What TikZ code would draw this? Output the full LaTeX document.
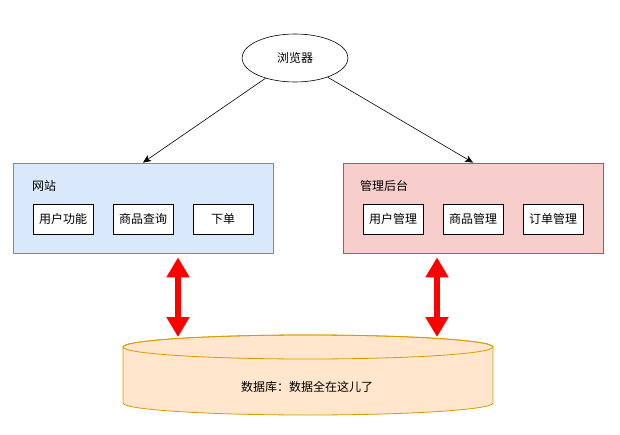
\documentclass[tikz,border=0pt]{standalone}
\usepackage{fontspec}
\usepackage{xcolor}
\usepackage{tikz}
\usetikzlibrary{arrows.meta,positioning,shapes.geometric}
\newfontfamily\cjk{Noto Sans CJK SC}
\definecolor{bluefill}{HTML}{DAE8FC}
\definecolor{blueline}{HTML}{6C8EBF}
\definecolor{redfill}{HTML}{F8CECC}
\definecolor{redline}{HTML}{B85450}
\definecolor{dbfill}{HTML}{FFE6CC}
\definecolor{dbline}{HTML}{D79B00}
\definecolor{redx}{HTML}{FF0000}
\tikzset{
  txt/.style={font=\cjk\fontsize{12}{14}\selectfont},
  ar/.style={-{Stealth[length=8pt,width=7pt,inset=2pt]},black,line width=0.6pt},
  dbar/.style={{Triangle[length=20pt,width=22pt]}-{Triangle[length=20pt,width=22pt]},redx,line width=6pt},
  panel/.style={draw,line width=0.8pt,minimum width=260,minimum height=90,inner sep=0pt},
  item/.style={txt,draw=black,fill=white,line width=0.8pt,minimum width=60,minimum height=30,inner sep=0pt}
}

\begin{document}
\begin{tikzpicture}[x=1pt,y=-1pt]
\useasboundingbox (0,0) rectangle (620,435);
\node[txt,ellipse,draw,fill=white,line width=0.6pt,minimum width=106,minimum height=48,inner sep=0pt] (browser) at (295,58) {浏览器};
\node[panel,fill=bluefill,draw=blueline] (site) at (143,208) {};
\node[panel,fill=redfill,draw=redline] (admin) at (473,208) {};
\node[txt,anchor=west,inner sep=0pt] (sitelbl) at (32,186) {网站};
\node[txt,anchor=west,inner sep=0pt] (adminlbl) at (360,186) {管理后台};
\node[item] (user) at (63,219) {用户功能};
\node[item] (goods) at (143,219) {商品查询};
\node[item] (order) at (223,219) {下单};
\node[item] (usermgr) at (393,219) {用户管理};
\node[item] (goodsmgr) at (473,219) {商品管理};
\node[item] (ordermgr) at (553,219) {订单管理};
\draw[ar] (browser) -- (site.north);
\draw[ar] (browser) -- (admin.north);
\filldraw[fill=dbfill,draw=dbline,line width=0.8pt] (123,347) -- (123,403) arc[start angle=180,end angle=0,x radius=185,y radius=12] -- (493,347) arc[start angle=0,end angle=-180,x radius=185,y radius=12] -- cycle;
\draw[dbline,line width=0.8pt] (308,347) ellipse[x radius=185,y radius=12];
\node[txt] (db) at (307,387) {数据库：数据全在这儿了};
\coordinate (dbl) at (178,337);
\coordinate (dbr) at (437,337);
\draw[dbar,shorten <=4pt] (site.south -| dbl) -- (dbl);
\draw[dbar,shorten <=4pt] (admin.south -| dbr) -- (dbr);
\end{tikzpicture}
\end{document}
